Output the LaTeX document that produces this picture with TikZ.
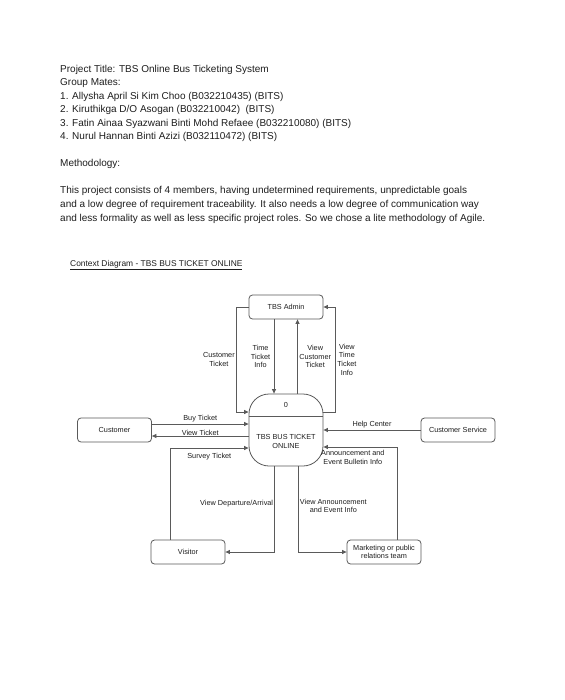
\documentclass[tikz,border=0pt]{standalone}
\usepackage{fontspec}
\setmainfont{Liberation Sans}
\usetikzlibrary{arrows.meta,positioning,calc}
\definecolor{lineg}{HTML}{5A5A5A}
\definecolor{inkg}{HTML}{1E1E1E}
\tikzset{
  >={Triangle[length=4.5pt,width=4pt]},
  % diagram
  ent/.style={draw=lineg,rounded corners=3.5pt,line width=0.8pt,minimum width=74pt,
              minimum height=24pt,inner sep=1pt,align=center,
              font=\fontsize{7.3}{8.7}\selectfont,text=inkg},
  proc/.style={draw=lineg,rounded corners=20pt,line width=0.8pt,minimum width=74pt,
               minimum height=72pt,inner sep=0pt},
  flow/.style={->,draw=lineg,line width=0.8pt},
  lbl/.style={font=\fontsize{7.3}{8.7}\selectfont,text=inkg,align=center,inner sep=1.5pt},
  % tekst (base = last line)
  para/.style={anchor=base west,align=left,inner sep=0pt,text=inkg,
               font=\fontsize{10}{13.4}\selectfont},
}
\begin{document}
\begin{tikzpicture}[x=1pt,y=-1pt]
  \fill[white] (0,0) rectangle (564,700);
  \useasboundingbox (0,0) rectangle (564,700);
  % tekst
  \node[para] (title) at (60,139.6) {Project Title: TBS Online Bus Ticketing System\\
    Group Mates:\\
    1. Allysha April Si Kim Choo (B032210435) (BITS)\\
    2. Kiruthikga D/O Asogan (B032210042)~~(BITS)\\
    3. Fatin Ainaa Syazwani Binti Mohd Refaee (B032210080) (BITS)\\
    4. Nurul Hannan Binti Azizi (B032110472) (BITS)};
  \node[para] (meth) at (60,166.6) {Methodology:};
  \node[para,font=\fontsize{10}{13.9}\selectfont] (body) at (60,221.4)
    {This project consists of 4 members, having undetermined requirements, unpredictable goals\\
     and a low degree of requirement traceability. It also needs a low degree of communication way\\
     and less formality as well as less specific project roles. So we chose a lite methodology of Agile.};
  \node[para,font=\fontsize{8.4}{10}\selectfont] (cap) at (70,266)
    {\underline{Context Diagram - TBS BUS TICKET ONLINE}};
  % diagram
  \node[ent] (admin) at (286,307) {TBS Admin};
  \node[proc] (sys) at (286,430) {};
  \node[lbl] (sysnr) at (286,405) {0};
  \node[lbl] (sysname) at (286,441.5) {TBS BUS TICKET\\ONLINE};
  \draw[draw=lineg,line width=0.8pt] ([yshift=-23pt]sys.north west) -- ([yshift=-23pt]sys.north east);
  \node[ent] (cust) at (114.5,430) {Customer};
  \node[ent] (csrv) at (458,430) {Customer Service};
  \node[ent] (vis) at (188,552) {Visitor};
  \node[ent] (mkt) at (384,552) {Marketing or public\\relations team};
  \draw[flow] (admin.west) -- ++(-12,0) |- node[lbl,pos=0.25,left] (lct) {Customer\\Ticket} ([yshift=18pt]sys.west);
  \draw[flow] ([xshift=-12pt]admin.south) -- node[lbl,left,xshift=-2pt] (ltti) {Time\\Ticket\\Info} ([xshift=-12pt]sys.north);
  \draw[flow] ([xshift=11.5pt]sys.north) -- node[lbl,right] (lvct) {View\\Customer\\Ticket} ([xshift=11.5pt]admin.south);
  \draw[flow] ([yshift=18pt]sys.east) -- ++(12,0) |- node[lbl,pos=0.25,right] (lvtti) {View\\Time\\Ticket\\Info} (admin.east);
  \draw[flow] ([yshift=6pt]cust.east) -- node[lbl,above] (lbuy) {Buy Ticket} ([yshift=6pt]sys.west);
  \draw[flow] ([yshift=-6pt]sys.west) -- node[lbl,above,inner sep=0.3pt] (lvt) {View Ticket} ([yshift=-6pt]cust.east);
  \draw[flow] ([xshift=-18pt]vis.north) |- node[lbl,pos=0.75,below,yshift=-3pt] (lsur) {Survey Ticket} ([yshift=-18pt]sys.west);
  \draw[flow] (csrv.west) -- node[lbl,above] (lhelp) {Help Center} (sys.east);
  \draw[flow] ([xshift=13pt]mkt.north) |- node[lbl,pos=0.8,below,yshift=-1.5pt] (lann) {Announcement and\\Event Bulletin Info} ([yshift=-17pt]sys.east);
  \draw[flow] ([xshift=-12pt]sys.south) |- node[lbl,pos=0.215,left,inner sep=0.5pt] (ldep) {View Departure/Arrival} (vis.east);
  \draw[flow] ([xshift=12pt]sys.south) |- node[lbl,pos=0.23,right] (lvae) {View Announcement\\and Event Info} (mkt.west);
\end{tikzpicture}
\end{document}
